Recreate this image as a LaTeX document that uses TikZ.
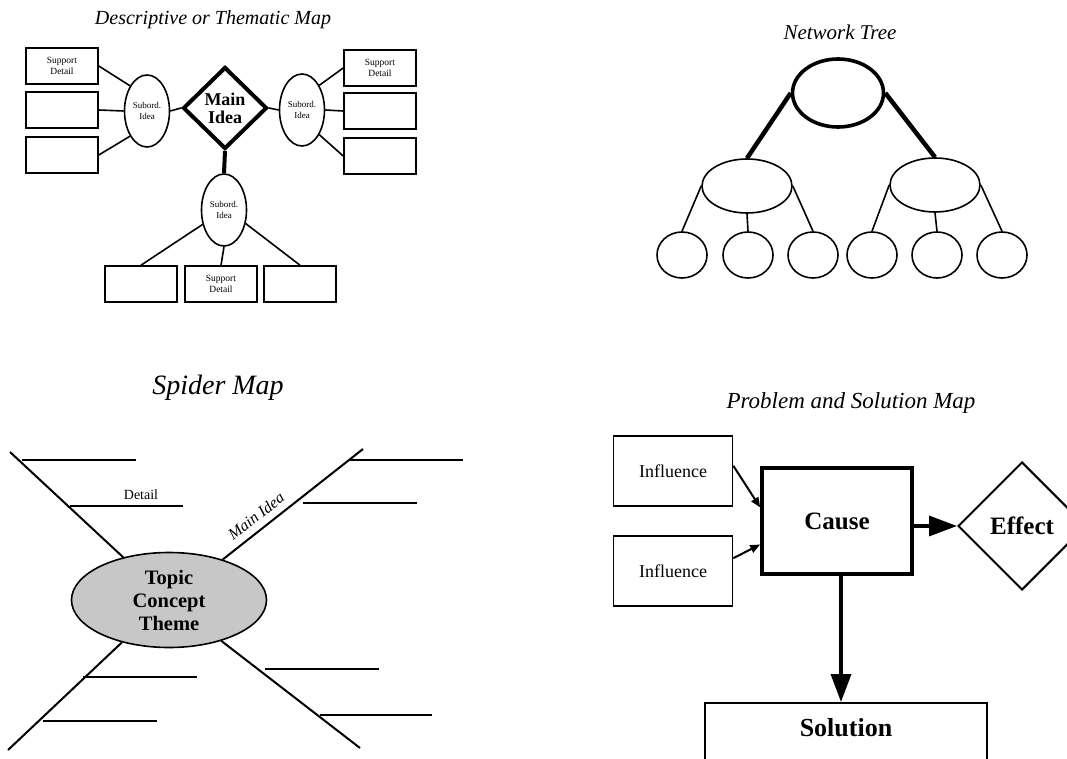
\documentclass[tikz,border=0pt]{standalone}
\usepackage{fontspec}
\setmainfont{Liberation Serif}
\usetikzlibrary{arrows.meta,positioning,shapes.geometric}

\begin{document}
\begin{tikzpicture}[
    x=1pt, y=-1pt,
    line width=1.6pt,
    title/.style={font=\fontsize{20}{22}\selectfont\itshape},
    detailbox/.style={
        rectangle,
        draw,
        minimum width=72pt,
        minimum height=36pt,
        inner sep=1pt,
        align=center,
        font=\fontsize{9.5}{11}\selectfont
    },
    subidea/.style={
        ellipse,
        draw,
        minimum width=45pt,
        minimum height=72pt,
        inner sep=0pt,
        align=center,
        font=\fontsize{9}{11}\selectfont
    },
    mainidea/.style={
        diamond,
        draw,
        line width=4pt,
        minimum width=84pt,
        minimum height=82pt,
        inner sep=0pt,
        align=center,
        font=\fontsize{18}{18}\selectfont\bfseries
    },
    rootnode/.style={ellipse, draw, line width=3.6pt, minimum width=91pt, minimum height=68pt},
    branchnode/.style={ellipse, draw, minimum width=90pt, minimum height=54pt},
    leafnode/.style={ellipse, draw, minimum width=50pt, minimum height=46pt},
    trunk/.style={line width=4.5pt},
    topicnode/.style={
        ellipse,
        draw,
        fill=black!22,
        minimum width=195pt,
        minimum height=95pt,
        inner sep=0pt,
        align=center,
        font=\fontsize{20.5}{23}\selectfont\bfseries
    },
    leg/.style={line width=2pt},
    infbox/.style={
        rectangle,
        draw,
        minimum width=119pt,
        minimum height=70pt,
        font=\fontsize{18}{20}\selectfont
    },
    causebox/.style={
        rectangle,
        draw,
        line width=3.6pt,
        minimum width=150pt,
        minimum height=106pt,
        font=\fontsize{25}{27}\selectfont\bfseries
    },
    effectnode/.style={
        diamond,
        draw,
        line width=2pt,
        minimum width=128pt,
        minimum height=128pt,
        inner sep=0pt,
        font=\fontsize{25}{27}\selectfont\bfseries
    },
    solbox/.style={
        rectangle,
        draw,
        line width=2pt,
        minimum width=282pt,
        inner ysep=15pt,
        text depth=70pt,
        font=\fontsize{26}{28}\selectfont\bfseries
    },
    smallarrow/.style={-{Triangle[length=10pt,width=8pt]}, line width=2pt},
    bigarrow/.style={-{Triangle[length=28pt,width=20pt]}, line width=3.4pt}
]

\useasboundingbox (0,0) rectangle (1067,759);
\clip (0,0) rectangle (1067,759);

% descriptive map
\node[title] (dtitle) at (213,20) {Descriptive or Thematic Map};
\node[mainidea] (mainidea) at (225,108) {Main\\Idea};
\node[subidea] (lsub) at (147,111) {Subord.\\Idea};
\node[subidea] (rsub) at (302,110) {Subord.\\Idea};
\node[subidea] (bsub) at (224,210) {Subord.\\Idea};
\node[detailbox] (lbox1) at (62,66) {Support\\Detail};
\node[detailbox] (lbox2) at (62,110) {};
\node[detailbox] (lbox3) at (62,155) {};
\node[detailbox] (rbox1) at (380,68) {Support\\Detail};
\node[detailbox] (rbox2) at (380,111) {};
\node[detailbox] (rbox3) at (380,156) {};
\node[detailbox] (bbox1) at (141,284) {};
\node[detailbox] (bbox2) at (221,284) {Support\\Detail};
\node[detailbox] (bbox3) at (300,284) {};

\draw (mainidea.west) -- (lsub.east);
\draw (mainidea.east) -- (rsub.west);
\draw[line width=4pt] (mainidea.south) -- (bsub.north);
\draw (lsub.124) -- (lbox1.east);
\draw (lsub.west) -- (lbox2.east);
\draw (lsub.236) -- (lbox3.east);
\draw (rsub.55) -- (rbox1.west);
\draw (rsub.east) -- (rbox2.west);
\draw (rsub.305) -- (rbox3.west);
\draw (bsub.214) -- (bbox1.north);
\draw (bsub.south) -- (bbox2.north);
\draw (bsub.328) -- (bbox3.north);

% network tree
\node[title, font=\fontsize{21}{23}\selectfont\itshape] (ntitle) at (840,32) {Network Tree};
\node[rootnode] (root) at (838,93) {};
\node[branchnode] (bleft) at (747,186) {};
\node[branchnode] (bright) at (935,185) {};
\foreach \n/\xx in {1/682,2/748,3/813,4/872,5/937,6/1002}
    \node[leafnode] (leaf\n) at (\xx,255) {};

\draw[trunk] (root.west) -- (bleft.north);
\draw[trunk] (root.east) -- (bright.north);
\draw (bleft.west) -- (leaf1.north);
\draw (bleft.south) -- (leaf2.north);
\draw (bleft.east) -- (leaf3.north);
\draw (bright.west) -- (leaf4.north);
\draw (bright.south) -- (leaf5.north);
\draw (bright.east) -- (leaf6.north);

% spider map
\node[title, font=\fontsize{28}{30}\selectfont\itshape] (stitle) at (218,388) {Spider Map};
\node[topicnode] (topic) at (169,600) {Topic\\Concept\\Theme};
\coordinate (ulend) at (10,452);
\coordinate (urend) at (363,449);
\coordinate (llend) at (8,750);
\coordinate (lrend) at (360,748);

\draw[leg] (topic.137) -- (ulend);
\draw[leg] (topic.37) -- (urend);
\draw[leg] (topic.222) -- (llend);
\draw[leg] (topic.322) -- (lrend);
\foreach \xa/\xb/\yy in {22/136/460, 70/183/506, 350/463/460, 303/417/503,
                         83/197/677, 43/157/721, 265/379/669, 320/432/715}
    \draw (\xa,\yy) -- (\xb,\yy);
\node[font=\fontsize{14}{15}\selectfont] (detail) at (141,495) {Detail};
\node[font=\fontsize{16}{17}\selectfont\itshape, rotate=38] (mainlabel) at (256,516) {Main Idea};

% problem and solution map
\node[title, font=\fontsize{23}{25}\selectfont\itshape] (ptitle) at (851,403) {Problem and Solution Map};
\node[infbox] (inf1) at (673,471) {Influence};
\node[infbox] (inf2) at (673,571) {Influence};
\node[causebox] (cause) at (837,521) {Cause};
\node[effectnode] (effect) at (1022,526) {Effect};
\node[solbox, anchor=north] (sol) at (846,702) {Solution};

\draw[smallarrow] (inf1.5) -- (cause.170);
\draw[smallarrow] (inf2.12) -- (cause.197);
\draw[bigarrow] (cause.east |- effect.west) -- (effect.west);
\draw[bigarrow] ([xshift=4pt]cause.south) -- ([xshift=4pt]cause.south |- sol.north);

\end{tikzpicture}
\end{document}
